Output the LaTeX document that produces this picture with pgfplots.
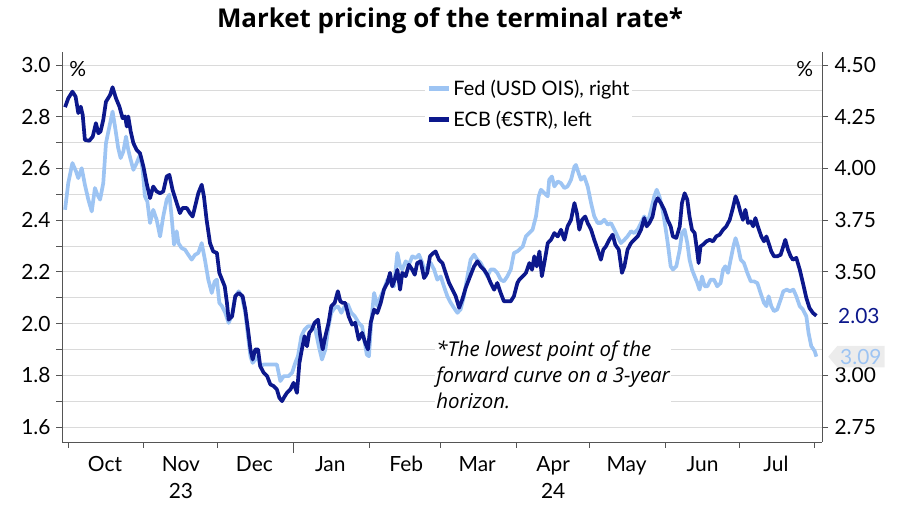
\documentclass[border=0pt]{standalone}
\usepackage{pgfplots}
\pgfplotsset{compat=1.18}
\usepackage{pgfplotstable}
\usepackage{fontspec}
\setmainfont{Lato}
\newfontfamily\opensans{Open Sans}
\usetikzlibrary{shapes.symbols}
\definecolor{ecb}{RGB}{12,24,140}
\definecolor{fed}{RGB}{157,196,243}
\definecolor{gridc}{RGB}{218,218,218}
\definecolor{axc}{RGB}{85,85,85}
\definecolor{boxg}{RGB}{236,236,236}

\pgfplotstableread{
d v
-1.2 2.837
0.1 2.871
1.8 2.897
3.1 2.878
4.2 2.814
5.2 2.839
6.0 2.807
6.9 2.710
8.7 2.707
10.1 2.723
11.4 2.775
12.4 2.736
13.3 2.743
14.4 2.788
15.5 2.858
17.2 2.884
18.2 2.914
19.6 2.871
21.0 2.839
22.3 2.794
23.3 2.801
24.0 2.762
24.6 2.801
25.6 2.743
26.7 2.698
28.0 2.672
29.4 2.659
30.8 2.607
32.1 2.543
33.5 2.485
34.8 2.530
36.2 2.511
37.6 2.504
38.9 2.511
40.3 2.569
41.4 2.575
42.7 2.517
44.4 2.466
45.7 2.427
46.8 2.447
48.5 2.447
49.8 2.427
50.9 2.414
51.9 2.453
53.2 2.504
54.6 2.537
55.5 2.492
56.6 2.401
58.0 2.311
59.3 2.279
60.8 2.273
61.8 2.196
62.9 2.170
64.0 2.144
64.9 2.080
65.6 2.015
67.0 2.028
68.3 2.106
69.7 2.118
71.3 2.106
72.4 2.054
73.5 1.977
74.5 1.900
75.4 1.861
76.5 1.900
77.6 1.900
78.5 1.835
79.9 1.810
81.3 1.797
82.6 1.765
84.0 1.758
85.3 1.745
86.3 1.713
87.4 1.700
88.5 1.719
89.4 1.732
90.8 1.745
92.1 1.771
93.5 1.732
94.5 1.848
95.5 1.900
96.6 1.951
97.6 1.912
98.5 1.964
99.6 1.977
100.7 2.003
102.1 2.015
103.0 1.951
104.0 1.900
105.1 1.951
106.4 2.003
107.5 2.067
108.9 2.080
110.2 2.125
111.2 2.086
112.2 2.080
113.2 2.080
114.6 2.028
116.0 1.996
117.3 2.003
118.7 1.938
120.1 1.964
121.4 1.925
122.5 1.900
123.6 2.003
125.0 2.054
126.3 2.041
127.7 2.080
129.0 2.131
130.4 2.157
131.5 2.196
132.4 2.144
133.4 2.170
134.5 2.208
135.6 2.131
136.5 2.196
137.9 2.183
139.2 2.228
140.6 2.208
141.6 2.189
142.6 2.234
144.0 2.241
145.4 2.176
146.7 2.196
147.8 2.260
149.2 2.273
150.1 2.279
151.5 2.247
152.9 2.234
154.2 2.196
155.6 2.157
157.0 2.131
158.3 2.106
159.7 2.061
161.0 2.093
162.4 2.138
164.2 2.183
165.8 2.221
167.2 2.241
168.5 2.221
169.9 2.208
171.2 2.189
172.6 2.157
174.0 2.131
175.3 2.157
176.7 2.118
178.0 2.086
179.4 2.086
180.8 2.086
182.1 2.106
183.5 2.157
184.3 2.170
185.7 2.183
187.0 2.196
188.4 2.234
189.5 2.208
190.4 2.260
191.4 2.221
192.5 2.279
193.5 2.183
194.5 2.234
195.9 2.311
197.2 2.324
198.6 2.350
200.0 2.337
201.3 2.363
202.7 2.324
204.0 2.376
205.4 2.401
206.8 2.466
207.8 2.427
208.8 2.363
209.9 2.401
211.2 2.414
212.2 2.389
213.6 2.363
214.9 2.324
216.3 2.286
217.6 2.247
218.6 2.286
219.7 2.299
221.0 2.324
222.4 2.344
223.5 2.305
224.9 2.286
226.2 2.196
227.2 2.221
228.5 2.286
229.9 2.311
231.2 2.324
232.6 2.337
234.0 2.363
235.3 2.408
236.3 2.376
237.4 2.389
238.7 2.414
239.8 2.466
240.8 2.485
242.1 2.466
243.5 2.440
244.9 2.400
246.1 2.376
247.0 2.337
248.4 2.331
249.8 2.376
250.7 2.466
251.8 2.504
252.9 2.479
253.8 2.414
254.8 2.363
255.9 2.350
257.0 2.273
257.5 2.234
258.3 2.299
259.3 2.305
260.7 2.318
262.0 2.324
263.4 2.318
264.7 2.337
266.1 2.344
267.5 2.363
268.8 2.376
270.2 2.401
271.5 2.447
272.6 2.492
273.6 2.466
274.7 2.427
275.6 2.401
276.6 2.440
277.7 2.389
278.8 2.395
279.8 2.376
280.7 2.408
281.7 2.376
283.1 2.337
284.2 2.318
285.2 2.337
286.1 2.311
287.2 2.279
288.3 2.260
289.6 2.260
291.0 2.266
292.1 2.299
292.9 2.324
294.0 2.286
295.1 2.260
296.0 2.247
297.4 2.254
298.8 2.209
300.1 2.157
301.5 2.099
302.8 2.060
304.2 2.041
305.6 2.030
}\ecbdata

\pgfplotstableread{
d f
-1.2 3.800
0.1 3.929
1.8 4.026
3.3 3.985
4.2 3.953
5.6 4.001
6.9 3.921
8.3 3.849
9.7 3.792
11.0 3.905
12.0 3.873
13.1 3.849
14.4 3.929
15.5 4.122
16.9 4.202
18.2 4.275
19.2 4.202
20.5 4.098
21.5 4.050
22.6 4.082
23.7 4.154
24.6 4.090
25.6 4.042
26.7 3.993
28.0 4.025
29.4 4.066
30.5 3.993
31.4 3.865
32.4 3.840
33.5 3.736
34.8 3.800
36.2 3.752
37.6 3.671
38.9 3.768
40.3 3.849
41.4 3.873
42.3 3.768
43.3 3.631
44.4 3.696
45.1 3.639
46.4 3.615
47.8 3.607
49.1 3.583
50.5 3.559
51.9 3.583
53.2 3.591
54.6 3.639
55.9 3.559
57.3 3.462
58.7 3.398
59.9 3.454
60.8 3.462
61.8 3.350
62.9 3.334
64.2 3.302
65.6 3.253
67.0 3.293
68.3 3.382
69.7 3.406
71.0 3.382
72.4 3.302
73.5 3.189
74.5 3.092
75.4 3.060
76.5 3.076
77.6 3.092
78.5 3.044
79.9 3.052
81.3 3.052
83.3 3.052
85.3 3.052
86.7 2.972
88.1 2.996
90.1 2.996
91.5 3.012
92.8 3.060
93.9 3.092
95.3 3.189
96.6 3.221
98.0 3.237
99.4 3.237
101.0 3.221
102.4 3.141
103.7 3.076
105.1 3.125
106.4 3.237
107.5 3.302
108.9 3.326
110.2 3.334
111.6 3.302
113.0 3.334
114.3 3.342
115.7 3.302
117.1 3.285
118.7 3.253
120.1 3.237
122.0 3.100
122.9 3.092
123.9 3.269
125.0 3.398
126.3 3.334
127.7 3.382
129.0 3.414
130.4 3.462
131.8 3.446
133.1 3.430
134.5 3.591
135.6 3.527
136.5 3.511
137.9 3.551
139.2 3.535
140.6 3.575
142.0 3.567
143.3 3.583
144.7 3.543
146.1 3.478
147.0 3.535
148.1 3.543
149.5 3.511
150.8 3.462
152.2 3.478
153.5 3.430
154.9 3.382
156.3 3.350
157.6 3.326
159.0 3.302
160.3 3.318
161.7 3.382
163.1 3.478
164.4 3.559
165.8 3.583
167.1 3.559
168.5 3.543
169.9 3.511
171.2 3.478
172.6 3.511
174.0 3.511
175.3 3.495
176.7 3.462
178.0 3.454
179.4 3.478
180.8 3.511
182.1 3.591
183.5 3.599
184.3 3.607
185.7 3.623
187.0 3.672
188.4 3.688
189.7 3.704
191.1 3.768
192.2 3.865
193.1 3.897
194.5 3.881
195.9 3.865
196.5 3.945
197.6 3.961
198.6 3.913
200.0 3.937
201.3 3.929
202.7 3.905
204.0 3.913
205.4 3.945
206.8 4.009
207.4 4.017
208.5 3.977
209.5 3.945
210.8 3.961
212.2 3.913
213.6 3.832
214.9 3.768
216.3 3.736
217.6 3.736
219.0 3.752
220.4 3.728
221.7 3.736
223.1 3.704
224.4 3.672
225.8 3.639
227.2 3.655
228.5 3.672
229.9 3.696
231.2 3.688
232.6 3.704
234.0 3.736
235.3 3.768
236.7 3.736
238.1 3.800
239.4 3.865
240.4 3.897
241.5 3.865
242.8 3.800
243.9 3.720
244.9 3.639
246.1 3.527
247.0 3.511
248.4 3.527
249.8 3.607
250.7 3.688
251.8 3.704
252.9 3.639
253.8 3.559
254.8 3.511
255.9 3.478
257.0 3.446
257.9 3.414
258.9 3.478
260.0 3.430
261.1 3.430
262.4 3.462
263.8 3.462
265.1 3.430
266.5 3.446
267.5 3.511
268.4 3.527
269.5 3.495
270.6 3.559
271.7 3.623
272.6 3.663
273.6 3.623
274.7 3.559
276.0 3.543
277.4 3.495
278.8 3.454
280.1 3.454
281.5 3.446
282.8 3.398
284.2 3.350
285.2 3.334
286.1 3.382
287.2 3.334
288.3 3.310
289.6 3.318
291.0 3.366
292.1 3.406
293.5 3.414
294.8 3.406
296.2 3.414
297.4 3.382
298.8 3.334
300.1 3.318
301.5 3.285
302.4 3.205
303.5 3.141
304.9 3.117
305.6 3.090
}\feddata

\begin{document}
\begin{tikzpicture}[x=1bp,y=1bp]
\useasboundingbox (0,0) rectangle (900,510);
\node[font=\opensans\fontsize{26}{30}\selectfont\bfseries, text=black] at (450,489) {Market pricing of the terminal rate*};

% Fed axis (right), draws grid and x axis
\begin{axis}[
  at={(62bp,68bp)}, anchor=south west,
  scale only axis, width=760bp, height=390bp,
  xmin=-2.45, xmax=307.9,
  ymin=2.6775, ymax=4.5628,
  axis x line*=bottom, axis y line*=right,
  axis line style={axc, line width=0.9bp},
  ytick={2.75,3.00,3.25,3.50,3.75,4.00,4.25,4.50},
  yticklabels={2.75,3.00,{},3.50,3.75,4.00,4.25,4.50},
  minor ytick={2.875,3.125,3.375,3.625,3.875,4.125,4.375},
  ymajorgrids, yminorgrids,
  major grid style={gridc, line width=0.9bp},
  minor grid style={gridc, line width=0.9bp},
  minor tick length=0bp,
  major tick length=6bp,
  tick align=outside,
  tick style={axc, line width=0.9bp},
  xtick={0,31,61,92,123,152,183,213,244,274,305},
  xticklabels={Oct,Nov\\23,Dec,Jan,Feb,Mar,Apr\\24,May,Jun,Jul,{}},
  xticklabel style={align=center, anchor=north, xshift=37bp, yshift=-5bp, font=\fontsize{21}{27}\selectfont},
  extra x ticks={92},
  extra x tick labels={},
  extra x tick style={major tick length=11bp},
  yticklabel style={font=\fontsize{21}{24}\selectfont, xshift=3bp},
  clip=false,
]
\addplot[fed, line width=3.7bp, line join=round] table[x=d, y=f] {\feddata};
\coordinate (fedend) at (axis cs:307.9,3.09);
\node[anchor=east, font=\fontsize{21}{24}\selectfont] at (rel axis cs:0.993,0.957) {\%};
\end{axis}

% ECB axis (left)
\begin{axis}[
  at={(62bp,68bp)}, anchor=south west,
  scale only axis, width=760bp, height=390bp,
  xmin=-2.45, xmax=307.9,
  ymin=1.542, ymax=3.0503,
  axis x line=none, axis y line*=left,
  axis line style={axc, line width=0.9bp},
  ytick={1.6,1.8,2.0,2.2,2.4,2.6,2.8,3.0},
  yticklabels={1.6,1.8,2.0,2.2,2.4,2.6,2.8,3.0},
  minor ytick={1.7,1.9,2.1,2.3,2.5,2.7,2.9},
  major tick length=6bp, minor tick length=6bp,
  tick align=outside,
  tick style={axc, line width=0.9bp},
  yticklabel style={font=\fontsize{21}{24}\selectfont, xshift=-2bp},
  legend style={at={(0.478,0.937)}, anchor=north west, draw=none, fill=white,
    font=\fontsize{20}{24}\selectfont, inner sep=1bp, row sep=10bp,
    /tikz/every even column/.append style={column sep=2bp}},
  legend cell align=left,
  legend image code/.code={\draw[#1, line width=5bp] (0bp,0bp) -- (20bp,0bp);},
  clip=false,
]
\addlegendimage{fed, line width=3.7bp}
\addlegendentry{Fed (USD OIS), right}
\addplot[ecb, line width=3.7bp, line join=round] table[x=d, y=v] {\ecbdata};
\addlegendentry{ECB (€STR), left}
\coordinate (ecbend) at (axis cs:307.9,2.03);
\node[anchor=west, font=\fontsize{21}{24}\selectfont] at (rel axis cs:0.005,0.957) {\%};
\node[anchor=north west, align=left, fill=white, inner sep=1bp,
  font=\opensans\fontsize{20.5}{26}\selectfont\itshape] at (rel axis cs:0.491,0.262)
  {*The lowest point of the\\forward curve on a 3-year\\horizon.};
\end{axis}

\node[anchor=west, text=ecb, fill=white, inner sep=1bp, font=\fontsize{21}{24}\selectfont] at ([xshift=15bp]ecbend) {2.03};
\node[signal, signal to=west, signal pointer angle=100, fill=boxg, text=fed, anchor=west,
  inner xsep=3bp, inner ysep=3bp, font=\fontsize{21}{24}\selectfont] at ([xshift=6bp]fedend) {3.09};
\end{tikzpicture}
\end{document}
